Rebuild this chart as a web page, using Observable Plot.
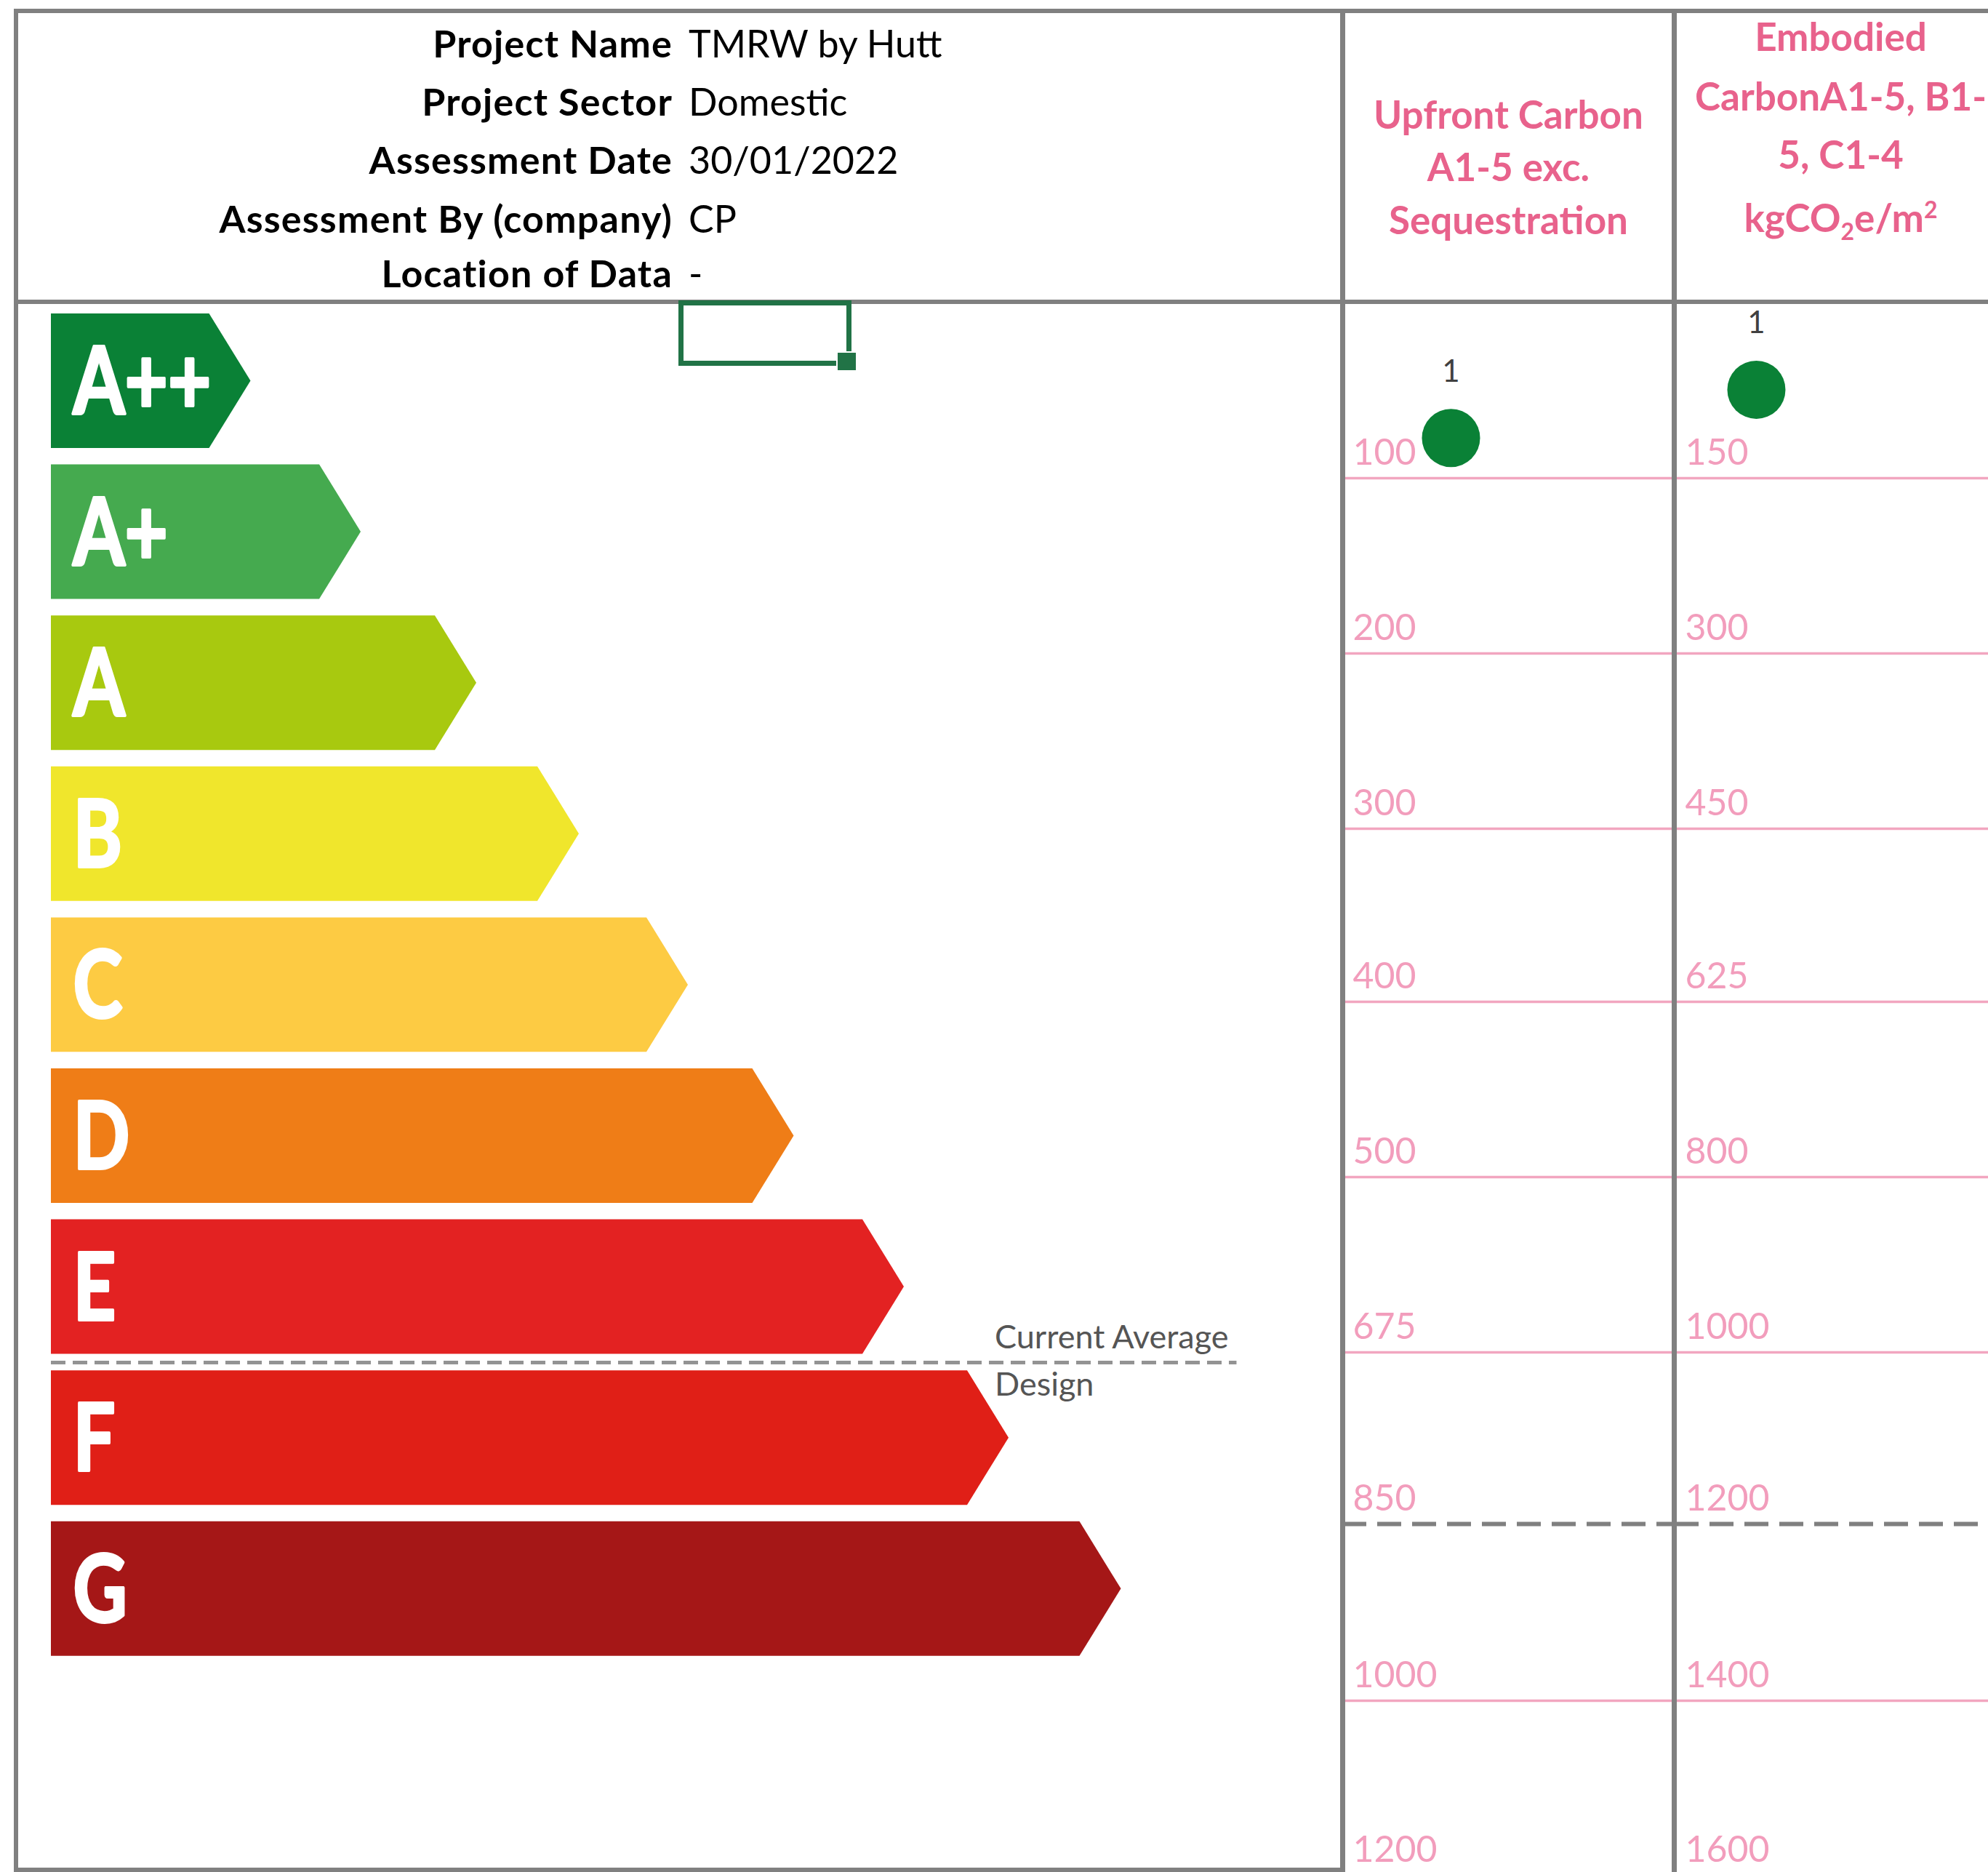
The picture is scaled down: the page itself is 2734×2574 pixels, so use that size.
<!DOCTYPE html>
<html>
<head>
<meta charset="utf-8">
<script src="https://cdn.jsdelivr.net/npm/d3@7"></script>
<script src="https://cdn.jsdelivr.net/npm/@observablehq/plot@0.6"></script>
<style>
  html, body { margin: 0; padding: 0; background: #fff; }
  #root { position: relative; width: 2734px; height: 2574px; overflow: hidden; background: #fff; font-family: Lato, "Noto Sans", sans-serif; }
  .ln { position: absolute; background: #808080; z-index: 5; }
  .plot { position: absolute; z-index: 2; }
  .hlab { position: absolute; font-weight: 700; font-size: 52px; letter-spacing: 1.2px; color: #000; white-space: nowrap; transform: translate(-100%, -50%); z-index: 3; }
  .hval { position: absolute; font-weight: 400; font-size: 52px; color: #000; white-space: nowrap; transform: translate(0, -50%); z-index: 3; }
  .chead { position: absolute; width: 457px; text-align: center; font-weight: 700; font-size: 53px; color: #e8628c; white-space: nowrap; transform: translate(0, -50%); z-index: 3; }
  .chead sub, .chead sup { font-size: 32px; }
  .sel { position: absolute; left: 933px; top: 413px; width: 224px; height: 76px; border: 7px solid #217346; z-index: 6; }
  .selh { position: absolute; left: 1150px; top: 483px; width: 25px; height: 24px; background: #217346; border: 2px solid #fff; z-index: 7; }
</style>
</head>
<body>
<div id="root"></div>
<script>
// ---------------- data ----------------
const headerLabels = ["Project Name", "Project Sector", "Assessment Date", "Assessment By (company)", "Location of Data"];
const headerValues = ["TMRW by Hutt", "Domestic", "30/01/2022", "CP", "-"];

const ratings = ["A++", "A+", "A", "B", "C", "D", "E", "F", "G"];
const ratingColors = ["#0a8136", "#45aa4f", "#a8c90f", "#f0e62c", "#fdcb43", "#ef7d17", "#e32222", "#e01f17", "#a51717"];
// arrow body length (relative units)
const arrowLength = [1.45, 2.46, 3.52, 4.46, 5.46, 6.43, 7.44, 8.40, 9.43];
const averageDesignBand = "E"; // "Current Average Design" line sits below this band
const averageLabels = ["Current Average", "Design"];

const upfrontHeader = ["Upfront Carbon", "A1-5 exc.", "Sequestration"];
const embodiedHeader = ["Embodied", "CarbonA1-5, B1-", "5, C1-4", "kgCO<sub>2</sub>e/m<sup>2</sup>"];
const upfrontLimits = [100, 200, 300, 400, 500, 675, 850, 1000, 1200];
const embodiedLimits = [150, 300, 450, 625, 800, 1000, 1200, 1400, 1600];

const projectLabel = ["1"];
const projectUpfront = [77];
const projectEmbodied = [74];
const projectUpfrontX = [0.326];
const projectEmbodiedX = [0.245];

// ---------------- layout ----------------
const root = document.getElementById("root");
function addDiv(cls, styleObj, html) {
  const d = document.createElement("div");
  d.className = cls;
  Object.assign(d.style, styleObj);
  if (html !== undefined) d.innerHTML = html;
  root.appendChild(d);
  return d;
}
// table borders
addDiv("ln", {left: "19px", top: "12px", width: "2800px", height: "6px"});
addDiv("ln", {left: "19px", top: "12px", width: "6px", height: "2562px"});
addDiv("ln", {left: "19px", top: "2568px", width: "1830px", height: "6px"});
addDiv("ln", {left: "19px", top: "412px", width: "2800px", height: "6px"});
addDiv("ln", {left: "1843px", top: "12px", width: "7px", height: "2600px"});
addDiv("ln", {left: "2299px", top: "12px", width: "7px", height: "2600px"});

// Excel cell selection
addDiv("sel", {});
addDiv("selh", {});

// header info
const headerY = [59, 139, 219, 300, 375];
headerLabels.forEach((t, i) => addDiv("hlab", {left: "925px", top: headerY[i] + "px"}, t));
headerValues.forEach((t, i) => addDiv("hval", {left: "947px", top: headerY[i] + "px"}, t));

// column headers
const upY = [156, 228, 301];
upfrontHeader.forEach((t, i) => addDiv("chead", {left: "1846px", top: upY[i] + "px"}, t));
const emY = [49, 131, 211, 302];
embodiedHeader.forEach((t, i) => addDiv("chead", {left: "2303px", top: emY[i] + "px"}, t));

// ---------------- left: rating arrows ----------------
const bandH = 0.891;
const tip = 0.38;
const arrowData = ratings.flatMap((r, i) => [
  {rating: r, x: 0, y1: i, y2: i + bandH},
  {rating: r, x: arrowLength[i], y1: i, y2: i + bandH},
  {rating: r, x: arrowLength[i] + tip, y1: i + bandH / 2, y2: i + bandH / 2}
]);
const avgLine = ratings.indexOf(averageDesignBand) + (bandH + 1) / 2;

const leftPlot = Plot.plot({
  width: 1843, height: 2159, margin: 0,
  x: {type: "linear", domain: [0, 11.82], range: [70, 1843], axis: null},
  y: {type: "linear", domain: [0, 9], range: [16, 16 + 9 * 207.6], axis: null},
  color: {domain: ratings, range: ratingColors},
  style: {background: "transparent", overflow: "visible"},
  marks: [
    Plot.areaY(arrowData, {x: "x", y1: "y1", y2: "y2", z: "rating", fill: "rating"}),
    Plot.text(ratings, {
      x: () => 0, y: (d, i) => i + bandH / 2, text: d => d,
      dx: 30, dy: 4, textAnchor: "start", fill: "white", stroke: "white", strokeWidth: 4,
      fontSize: 128, fontWeight: "bold", fontFamily: "Lato, sans-serif"
    }),
    Plot.ruleY([avgLine], {x1: () => 0, x2: () => 10.87, stroke: "#939393", strokeWidth: 5, strokeDasharray: "20,10"}),
    Plot.text([averageLabels[0]], {
      x: () => 8.65, y: () => avgLine, dy: -34, text: d => d,
      textAnchor: "start", fill: "#555", fontSize: 45, fontFamily: "Lato, sans-serif"
    }),
    Plot.text([averageLabels[1]], {
      x: () => 8.65, y: () => avgLine, dy: 31, text: d => d,
      textAnchor: "start", fill: "#555", fontSize: 45, fontFamily: "Lato, sans-serif"
    })
  ]
});
// condense the rating letters horizontally (the original uses a narrow face)
leftPlot.querySelectorAll('g[font-size="128"] text').forEach(t => {
  const x = t.getAttribute("x");
  const tr = t.getAttribute("transform") || "";
  if (x !== null) {
    t.setAttribute("transform", `${tr} translate(${x},0) scale(0.8,1) translate(${-x},0)`);
  } else {
    t.setAttribute("transform", `${tr} scale(0.8,1)`);
  }
});
leftPlot.classList.add("plot");
leftPlot.style.left = "0px";
leftPlot.style.top = "415px";
root.appendChild(leftPlot);

// ---------------- right: carbon columns ----------------
const rowRange = [2, 242, 483, 724, 962, 1203, 1444, 1680, 1923, 2163];
const avgIndex = ratings.indexOf(averageDesignBand);

function columnPlot(limits, values, xs) {
  const solid = limits.filter((d, i) => i !== avgIndex);
  const dashed = [limits[avgIndex]];
  const pts = values.map((v, i) => ({v, x: xs[i], label: projectLabel[i]}));
  return Plot.plot({
    width: 457, height: 2159, margin: 0,
    x: {type: "linear", domain: [0, 1], range: [0, 457], axis: null},
    y: {type: "linear", domain: [0, ...limits], range: rowRange, axis: null},
    style: {background: "transparent", overflow: "visible"},
    marks: [
      Plot.ruleY(solid, {stroke: "#f2a6c0", strokeWidth: 3.5}),
      Plot.ruleY(dashed, {stroke: "#808080", strokeWidth: 6, strokeDasharray: "33,15"}),
      Plot.text(limits, {
        x: () => 0, y: d => d, text: d => String(d), dx: 14, dy: -35,
        textAnchor: "start", fill: "#f29dbc", fontSize: 50, fontFamily: "Lato, sans-serif"
      }),
      Plot.dot(pts, {x: "x", y: "v", r: 40, fill: "#0a8136", stroke: "none"}),
      Plot.text(pts, {
        x: "x", y: "v", text: "label", dy: -91,
        fill: "#404040", fontSize: 42, fontFamily: "Lato, sans-serif"
      })
    ]
  });
}
const col1 = columnPlot(upfrontLimits, projectUpfront, projectUpfrontX);
col1.classList.add("plot");
col1.style.left = "1846px";
col1.style.top = "415px";
root.appendChild(col1);

const col2 = columnPlot(embodiedLimits, projectEmbodied, projectEmbodiedX);
col2.classList.add("plot");
col2.style.left = "2303px";
col2.style.top = "415px";
root.appendChild(col2);
</script>
</body>
</html>
